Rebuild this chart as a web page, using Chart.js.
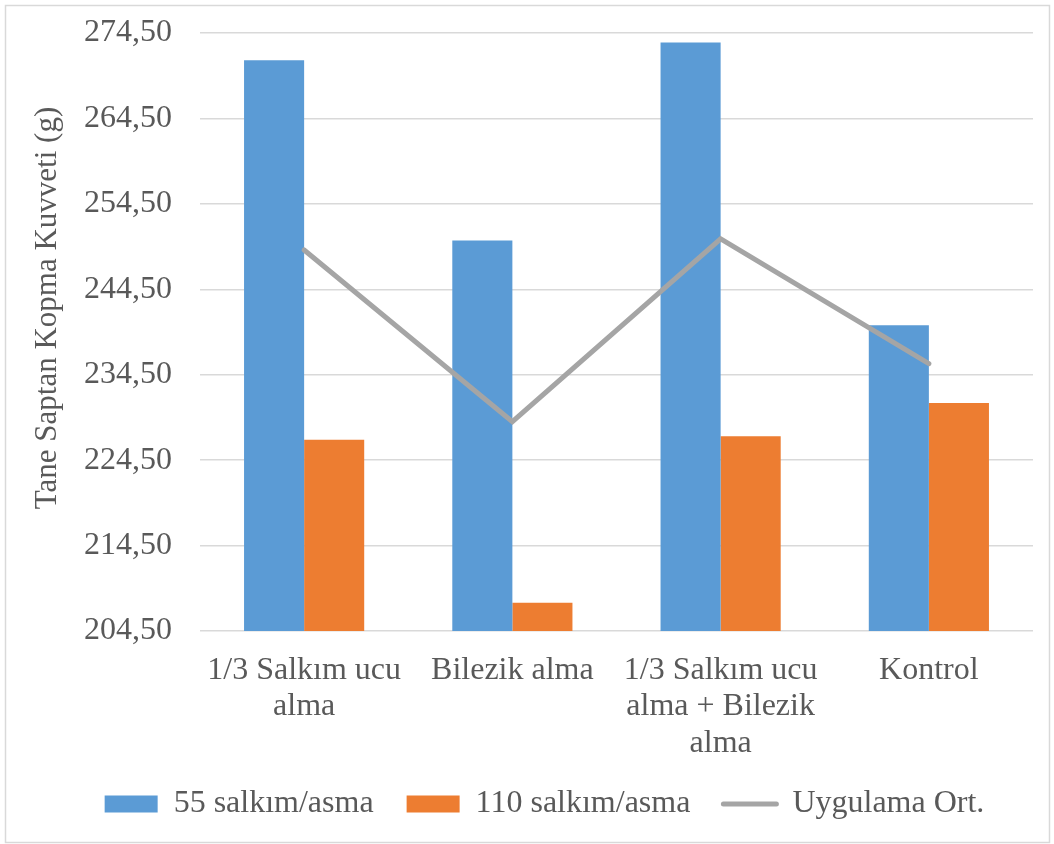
<!DOCTYPE html>
<html>
<head>
<meta charset="utf-8">
<script src="https://cdn.jsdelivr.net/npm/chart.js@4.4.1/dist/chart.umd.min.js"></script>
<style>
  html, body { margin: 0; padding: 0; background: #fff; }
  #wrap { width: 1054px; height: 844px; }
</style>
</head>
<body>
<div id="wrap"><canvas id="myChart" width="1054" height="844"></canvas></div>
<script>
var categories = [
  ["1/3 Salkım ucu", "alma"],
  ["Bilezik alma"],
  ["1/3 Salkım ucu", "alma + Bilezik", "alma"],
  ["Kontrol"]
];
var salkim55 = [271.3, 250.2, 273.4, 240.3];
var salkim110 = [226.9, 207.8, 227.3, 231.2];
var uygulamaOrt = [249.1, 229.0, 250.4, 235.8];
var yTicksMin = 204.5;
var yTicksMax = 274.5;
var yStep = 10;
var yTitle = "Tane Saptan Kopma Kuvveti (g)";

var textColor = "#595959";
var serif = "'Liberation Serif', 'Times New Roman', serif";

// light frame round the whole chart, and the y title sitting a bit above centre
var framePlugin = {
  id: 'frame',
  beforeDraw: function(chart) {
    var ctx = chart.ctx;
    ctx.save();
    ctx.fillStyle = "#fff";
    ctx.fillRect(0, 0, chart.width, chart.height);
    ctx.strokeStyle = "#d9d9d9";
    ctx.lineWidth = 1.5;
    ctx.strokeRect(5.5, 5.5, chart.width - 10, chart.height - 7);
    ctx.restore();
  },
  afterDraw: function(chart) {
    var ctx = chart.ctx;
    var area = chart.chartArea;
    ctx.save();
    ctx.translate(48, (area.top + area.bottom) / 2 - 24);
    ctx.rotate(-Math.PI / 2);
    ctx.fillStyle = textColor;
    ctx.font = "31px " + serif;
    ctx.textAlign = "center";
    ctx.textBaseline = "middle";
    ctx.fillText(yTitle, 0, 0);
    ctx.restore();
  }
};

// nudge the legend row to the right
var legendShift = {
  id: 'legendShift',
  afterLayout: function(chart) {
    chart.legend.left += 28;
    chart.legend.right += 28;
  }
};

var defaultLabels = Chart.defaults.plugins.legend.labels.generateLabels;

var config = {
  type: 'bar',
  data: {
    labels: categories,
    datasets: [
      {
        type: 'line',
        label: "Uygulama Ort.",
        data: uygulamaOrt,
        borderColor: "#a5a5a5",
        backgroundColor: "#a5a5a5",
        borderWidth: 5,
        borderCapStyle: 'round',
        pointRadius: 0,
        pointHoverRadius: 0,
        tension: 0,
        order: 0
      },
      {
        label: "55 salkım/asma",
        data: salkim55,
        backgroundColor: "#5b9bd5",
        order: 1
      },
      {
        label: "110 salkım/asma",
        data: salkim110,
        backgroundColor: "#ed7d31",
        order: 1
      }
    ]
  },
  options: {
    responsive: false,
    animation: false,
    layout: { padding: { left: 0, right: 21, top: 33, bottom: 14 } },
    datasets: {
      bar: { barPercentage: 1, categoryPercentage: 0.577, borderWidth: 0 }
    },
    scales: {
      x: {
        grid: { display: false },
        border: { display: false },
        ticks: {
          color: textColor,
          font: { family: serif, size: 32, lineHeight: 1.14 },
          padding: 13,
          maxRotation: 0,
          autoSkip: false
        },
        afterFit: function(scale) { scale.height = 124; }
      },
      y: {
        min: yTicksMin,
        max: yTicksMax,
        border: { display: false },
        grid: { color: "#d9d9d9", lineWidth: 1.5, drawTicks: false },
        ticks: {
          stepSize: yStep,
          color: textColor,
          font: { family: serif, size: 32 },
          padding: 28,
          callback: function(v) { return v.toFixed(2).replace('.', ','); }
        },
        afterFit: function(scale) {
          scale.width = 200;
          scale.paddingTop = 0;
          scale.paddingBottom = 0;
        }
      }
    },
    plugins: {
      tooltip: { enabled: false },
      legend: {
        position: 'bottom',
        labels: {
          color: textColor,
          font: { family: serif, size: 32 },
          usePointStyle: true,
          pointStyleWidth: 53,
          boxHeight: 17,
          padding: 33,
          sort: function(a, b) {
            var order = [1, 2, 0];
            return order.indexOf(a.datasetIndex) - order.indexOf(b.datasetIndex);
          },
          generateLabels: function(chart) {
            return defaultLabels(chart).map(function(item) {
              if (item.datasetIndex === 0) {
                item.pointStyle = 'line';
                item.lineWidth = 5;
                item.strokeStyle = "#a5a5a5";
                item.lineCap = 'round';
              } else {
                item.pointStyle = 'rect';
                item.lineWidth = 0;
              }
              return item;
            });
          }
        }
      }
    }
  },
  plugins: [framePlugin, legendShift]
};

var myChart = new Chart(document.getElementById('myChart'), config);
</script>
</body>
</html>
